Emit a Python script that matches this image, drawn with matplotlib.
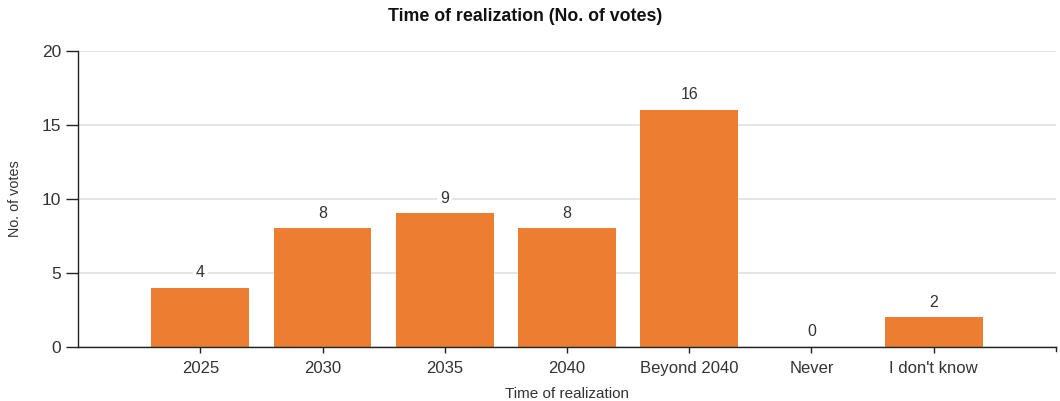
import matplotlib
matplotlib.use("Agg")
from matplotlib import pyplot as plt

categories = ["2025", "2030", "2035", "2040", "Beyond 2040", "Never", "I don't know"]
votes = [4, 8, 9, 8, 16, 0, 2]
y_ticks = [0, 5, 10, 15, 20]

plt.rcParams['font.family'] = ['Liberation Sans', 'DejaVu Sans']

fig = plt.figure(figsize=(10.6, 4.01), dpi=100)
ax = fig.add_axes([0.0736, 0.1354, 0.9226, 0.7382])

x = list(range(len(categories)))
bars = ax.bar(x, votes, width=0.8, color='#ED7D31', zorder=2)

# value labels above the bars
for xi, v in zip(x, votes):
    ax.annotate(str(v), (xi, v), xytext=(0, 15), textcoords='offset pixels',
                ha='center', va='center', fontsize=11.5, color='#333333',
                bbox=dict(boxstyle='square,pad=0.2', fc='white', ec='none'), zorder=3)

ax.set_xlim(-1, len(categories))
ax.set_ylim(0, 20)
ax.set_yticks(y_ticks)
ax.set_xticks(x)
ax.set_xticklabels(categories)
ax.yaxis.grid(True, color='#e0e0e0', linewidth=1.2, zorder=0)
ax.set_axisbelow(True)

for s in ['top', 'right']:
    ax.spines[s].set_visible(False)
for s in ['left', 'bottom']:
    ax.spines[s].set_color('#222222')
    ax.spines[s].set_linewidth(1)

ax.tick_params(axis='x', length=4, width=1, color='#222222', labelsize=12, labelcolor='#333333', pad=6)
ax.tick_params(axis='y', length=9, width=1, color='#222222', labelsize=12.5, labelcolor='#333333', pad=3)
# outer tick at the right end of the x axis
ax.plot([len(categories), len(categories)], [0, -0.3], color='#222222', lw=1, clip_on=False)

ax.set_xlabel("Time of realization", fontsize=11, color='#333333', labelpad=8)
ax.set_ylabel("No. of votes", fontsize=10.4, color='#333333', labelpad=14)
fig.suptitle("Time of realization (No. of votes)", x=0.495, y=0.98, fontsize=12.8, fontweight='bold', color='#111111')

fig.savefig("out.png", dpi=100)
